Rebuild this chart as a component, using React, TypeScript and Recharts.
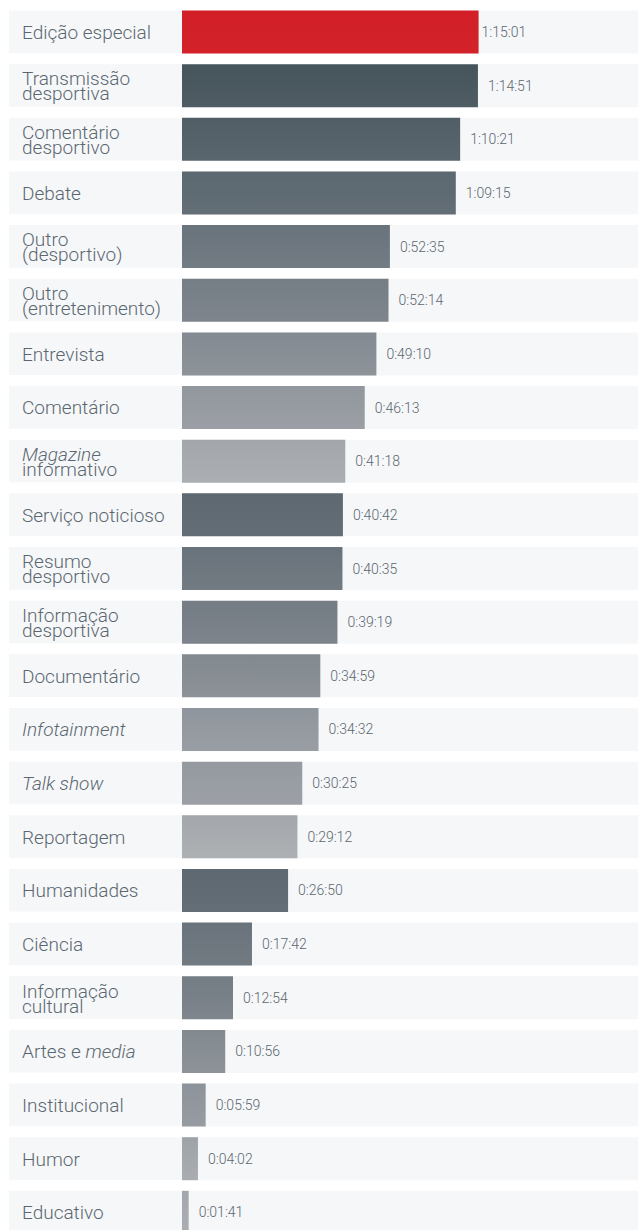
import React from "react"
import { BarChart, Bar, XAxis, YAxis, Cell, LabelList } from "recharts"

if (typeof document !== "undefined") {
  document.body.style.margin = "0"
  document.body.style.overflow = "hidden"
  document.documentElement.style.overflow = "hidden"
}

// genres, line breaks as in the source layout
const categories = [
  "Edição especial",
  "Transmissão\ndesportiva",
  "Comentário\ndesportivo",
  "Debate",
  "Outro\n(desportivo)",
  "Outro\n(entretenimento)",
  "Entrevista",
  "Comentário",
  "Magazine\ninformativo",
  "Serviço noticioso",
  "Resumo\ndesportivo",
  "Informação\ndesportiva",
  "Documentário",
  "Infotainment",
  "Talk show",
  "Reportagem",
  "Humanidades",
  "Ciência",
  "Informação\ncultural",
  "Artes e media",
  "Institucional",
  "Humor",
  "Educativo",
]

// average duration (h:mm:ss)
const durations = [
  "1:15:01", "1:14:51", "1:10:21", "1:09:15", "0:52:35", "0:52:14",
  "0:49:10", "0:46:13", "0:41:18", "0:40:42", "0:40:35", "0:39:19",
  "0:34:59", "0:34:32", "0:30:25", "0:29:12", "0:26:50", "0:17:42",
  "0:12:54", "0:10:56", "0:05:59", "0:04:02", "0:01:41",
]

const italicTerms = ["Magazine", "Infotainment", "Talk show", "media"]

// [top, bottom] of each bar's vertical gradient
const barColors = [
  ["#d21f27", "#d3222a"],
  ["#46545b", "#4f5c63"],
  ["#515e66", "#5a666d"],
  ["#5b6870", "#636e76"],
  ["#69737b", "#737b83"],
  ["#767e85", "#7e858c"],
  ["#838a91", "#8d9399"],
  ["#92979e", "#9b9fa5"],
  ["#a3a7ab", "#abafb3"],
  ["#5d6870", "#646e76"],
  ["#69737b", "#737b82"],
  ["#747c84", "#7d848b"],
  ["#82898f", "#8c9298"],
  ["#8f959c", "#999ea4"],
  ["#959aa1", "#9ca0a6"],
  ["#a3a7ab", "#aeb1b4"],
  ["#5d6870", "#646e76"],
  ["#69737b", "#737b82"],
  ["#747c84", "#7e858c"],
  ["#82898f", "#8d9399"],
  ["#8d939a", "#979ca2"],
  ["#9ea3a8", "#a9adb1"],
  ["#a3a7ab", "#abafb3"],
]

const toSeconds = (s: string) => {
  const [h, m, sec] = s.split(":").map(Number)
  return h * 3600 + m * 60 + sec
}

const data = categories.map((name, i) => ({
  name,
  seconds: toSeconds(durations[i]),
  label: durations[i],
}))

const CHART_W = 638
const CHART_H = 1240
const M_TOP = 5
const M_BOTTOM = 1
const GAP = 5.5
const AXIS_W = 182
const BAND_BG = "#f6f7f9"
const TEXT = "#5b6770"
const BAR_H = (CHART_H - M_TOP - M_BOTTOM) / categories.length - 2 * GAP

function renderLine(line: string) {
  const term = italicTerms.find((t) => line.includes(t))
  if (!term) return line
  const idx = line.indexOf(term)
  const before = line.slice(0, idx)
  const after = line.slice(idx + term.length)
  return (
    <>
      {before && <tspan>{before}</tspan>}
      <tspan fontStyle="italic">{term}</tspan>
      {after && <tspan>{after}</tspan>}
    </>
  )
}

function CategoryTick(props: any) {
  const { y, payload } = props
  const lines: string[] = String(payload.value).split("\n")
  const common = { x: 22, fill: TEXT, fontSize: 19, fontWeight: 300, fontFamily: "Roboto" }
  return (
    <g>
      <rect x={9} y={y - BAR_H / 2} width={AXIS_W - 9} height={BAR_H} fill={BAND_BG} />
      {lines.length === 1 ? (
        <text {...common} y={y + 7}>
          {renderLine(lines[0])}
        </text>
      ) : (
        lines.map((l, i) => (
          <text key={i} {...common} y={y + i * 15}>
            {renderLine(l)}
          </text>
        ))
      )}
    </g>
  )
}

function ValueLabel(props: any) {
  const { x, y, width, height, value, index } = props
  const offset = index === 0 ? 3 : 10
  return (
    <text
      x={Number(x) + Number(width) + offset}
      y={Number(y) + Number(height) / 2 + 5}
      fill={TEXT}
      fontSize={14}
      fontWeight={300}
      fontFamily="Roboto"
    >
      {value}
    </text>
  )
}

export default function App() {
  return (
    <div style={{ width: CHART_W, height: 1230, overflow: "hidden", background: "#fff" }}>
      <BarChart
        width={CHART_W}
        height={CHART_H}
        data={data}
        layout="vertical"
        margin={{ top: M_TOP, right: 0, bottom: M_BOTTOM, left: 0 }}
        barCategoryGap={GAP}
      >
        <defs>
          {barColors.map((c, i) => (
            <linearGradient key={i} id={`bar-grad-${i}`} x1="0" y1="0" x2="0" y2="1">
              <stop offset="0%" stopColor={c[0]} />
              <stop offset="100%" stopColor={c[1]} />
            </linearGradient>
          ))}
        </defs>
        <XAxis type="number" hide domain={[0, 6920]} allowDataOverflow />
        <YAxis
          type="category"
          dataKey="name"
          width={AXIS_W}
          axisLine={false}
          tickLine={false}
          interval={0}
          tick={<CategoryTick />}
        />
        <Bar dataKey="seconds" isAnimationActive={false} background={{ fill: BAND_BG }}>
          {data.map((_, i) => (
            <Cell key={i} fill={`url(#bar-grad-${i})`} />
          ))}
          <LabelList dataKey="label" content={<ValueLabel />} />
        </Bar>
      </BarChart>
    </div>
  )
}
